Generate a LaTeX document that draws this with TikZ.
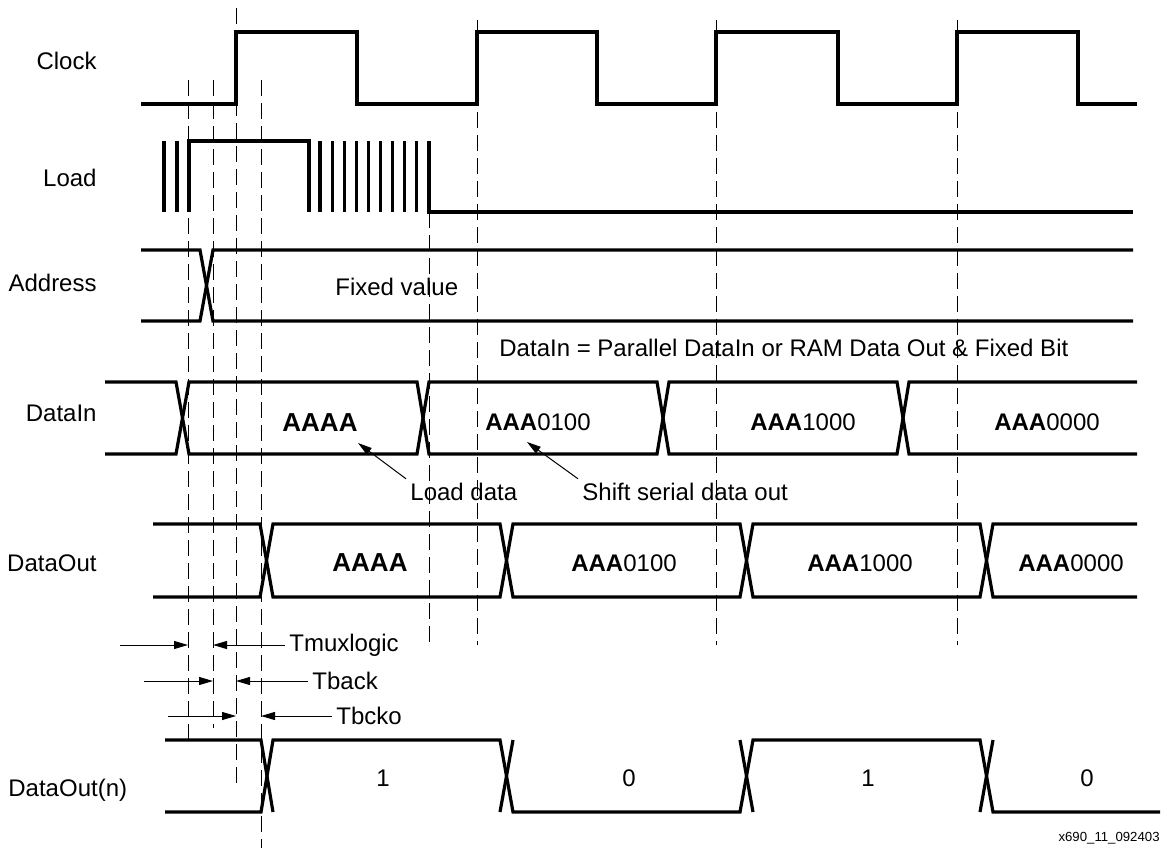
\documentclass[tikz,border=0pt]{standalone}
\usepackage{fontspec}
\setmainfont{Liberation Sans}
\usetikzlibrary{arrows.meta, positioning}

\tikzset{
  wave/.style={line width=1.6pt},
  guide/.style={line width=0.5pt, dash pattern=on 8pt off 3.5pt},
  pointer/.style={line width=0.5pt, -{Triangle[length=7pt,width=4pt]}},
  sig/.style={anchor=east, inner sep=0pt},
  note/.style={anchor=west, inner sep=2pt},
  big/.style={font=\fontsize{13}{15}\selectfont\bfseries},
}

\begin{document}
\begin{tikzpicture}[x=0.5pt, y=-0.5pt, font=\fontsize{12}{14}\selectfont]
    \useasboundingbox (0,0) rectangle (1161,850);

    % signal names
    \node (clk) [sig] at (97,61) {Clock};
    \node (load) [sig] at (97,178) {Load};
    \node (addr) [sig] at (97,283) {Address};
    \node (din) [sig] at (97,413) {DataIn};
    \node (dout) [sig] at (97,563) {DataOut};
    \node (doutn) [sig, anchor=west] at (8,790) {DataOut(n)};

    % clock
    \draw[wave] (141,104) -- (236,104) -- (236,32) -- (357,32) -- (357,104) -- (477,104) -- (477,32) -- (597,32) -- (597,104) -- (716,104) -- (716,32) -- (838,32) -- (838,104) -- (957,104) -- (957,32) -- (1078,32) -- (1078,104) -- (1137,104);

    % load
    \draw[wave] (164,141) -- (164,212);
    \draw[wave] (177,141) -- (177,212);
    \draw[wave] (189,212) -- (189,141) -- (309,141) -- (309,212);
    \foreach \x in {320,332.1,...,418}
        \draw[wave] (\x,141) -- (\x,212);
    \draw[wave] (429,141) -- (429,212) -- (1133,212);

    % address
    \draw[wave] (141,250) -- (200,250) -- (213,321) -- (1133,321);
    \draw[wave] (141,321) -- (200,321) -- (213,250) -- (1133,250);

    % data in
    \draw[wave] (105,382) -- (176,382) -- (189,454) -- (417,454) -- (429,382) -- (657,382) -- (669,454) -- (897,454) -- (909,382) -- (1137,382);
    \draw[wave] (105,454) -- (176,454) -- (189,382) -- (417,382) -- (429,454) -- (657,454) -- (669,382) -- (897,382) -- (909,454) -- (1137,454);

    % data out
    \draw[wave] (153,524) -- (260,524) -- (273,597) -- (500,597) -- (513,524) -- (740,524) -- (753,597) -- (980,597) -- (993,524) -- (1137,524);
    \draw[wave] (153,597) -- (260,597) -- (273,524) -- (500,524) -- (513,597) -- (740,597) -- (753,524) -- (980,524) -- (993,597) -- (1137,597);

    % data out (n)
    \draw[wave] (165,812) -- (261,812) -- (273,740) -- (500,740) -- (513,812) -- (740,812) -- (753,740) -- (980,740) -- (993,812) -- (1160,812);
    \draw[wave] (165,740) -- (261,740) -- (273,812);
    \draw[wave] (500,812) -- (513,740);
    \draw[wave] (740,740) -- (753,812);
    \draw[wave] (980,812) -- (993,740);

    % guides
    \draw[guide] (188,80) -- (188,740);
    \draw[guide] (213,80) -- (213,728);
    \draw[guide] (236,8) -- (236,788);
    \draw[guide] (261,80) -- (261,848);
    \draw[guide] (429,212) -- (429,645);
    \draw[guide] (477,20) -- (477,645);
    \draw[guide] (716,20) -- (716,645);
    \draw[guide] (957,20) -- (957,645);

    % values
    \node (fixed) [note] at (331,287) {Fixed value};
    \node (dinnote) [note] at (495,348) {DataIn = Parallel DataIn or RAM Data Out \& Fixed Bit};
    \node (din1) [big] at (320,423) {AAAA};
    \node (din2) at (538,422) {\textbf{AAA}0100};
    \node (din3) at (803,422) {\textbf{AAA}1000};
    \node (din4) at (1047,422) {\textbf{AAA}0000};
    \node (dout1) [big] at (370,563) {AAAA};
    \node (dout2) at (624,563) {\textbf{AAA}0100};
    \node (dout3) at (860,563) {\textbf{AAA}1000};
    \node (dout4) at (1071,563) {\textbf{AAA}0000};
    \node (bit1) at (383,778) {1};
    \node (bit2) at (629,778) {0};
    \node (bit3) at (868,778) {1};
    \node (bit4) at (1087,778) {0};

    % notes with pointers
    \node (ldtxt) [note] at (406,492) {Load data};
    \coordinate (ldtip) at (358,443);
    \draw[pointer] (ldtxt.north west) -- (ldtip);
    \node (sstxt) [note] at (578,492) {Shift serial data out};
    \coordinate (sstip) at (527,442);
    \draw[pointer] (sstxt.north west) -- (sstip);

    % timing
    \node (tmux) [note] at (285,645) {Tmuxlogic};
    \coordinate (tm0) at (120,645);
    \coordinate (tm1) at (188,645);
    \coordinate (tm2) at (213,645);
    \draw[pointer] (tm0) -- (tm1);
    \draw[pointer] (tmux.west) -- (tm2);

    \node (tback) [note] at (308,681) {Tback};
    \coordinate (tb0) at (144,681);
    \coordinate (tb1) at (213,681);
    \coordinate (tb2) at (236,681);
    \draw[pointer] (tb0) -- (tb1);
    \draw[pointer] (tback.west) -- (tb2);

    \node (tbcko) [note] at (332,716) {Tbcko};
    \coordinate (tc0) at (168,716);
    \coordinate (tc1) at (236,716);
    \coordinate (tc2) at (261,716);
    \draw[pointer] (tc0) -- (tc1);
    \draw[pointer] (tbcko.west) -- (tc2);

    \node (fig) [anchor=east, inner sep=0pt, font=\fontsize{6.6}{8}\selectfont] at (1160,838) {x690\_11\_092403};
\end{tikzpicture}
\end{document}
